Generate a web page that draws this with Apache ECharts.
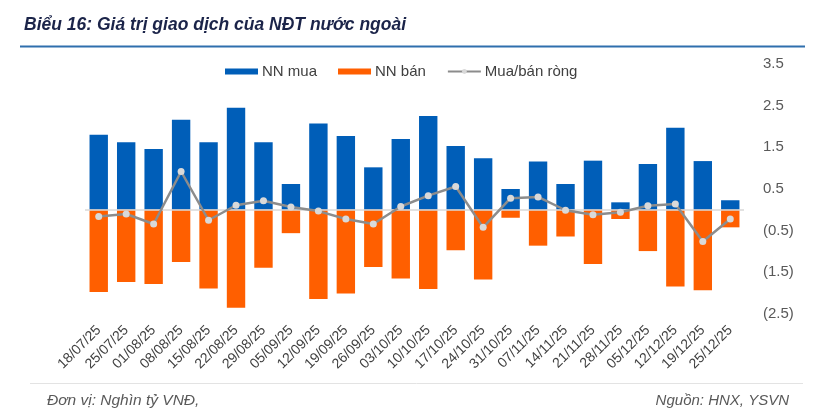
<!DOCTYPE html>
<html>
<head>
<meta charset="utf-8">
<script src="https://cdn.jsdelivr.net/npm/echarts@6/dist/echarts.min.js"></script>
<style>
    html, body { margin: 0; padding: 0; background: #fff; }
    #chart { width: 820px; height: 418px; }
</style>
</head>
<body>
<div id="chart"></div>
<script>
// du lieu doc tu hinh (nghin ty VND)
var weeks = ['18/07/25', '25/07/25', '01/08/25', '08/08/25', '15/08/25', '22/08/25', '29/08/25', '05/09/25',
    '12/09/25', '19/09/25', '26/09/25', '03/10/25', '10/10/25', '17/10/25', '24/10/25', '31/10/25',
    '07/11/25', '14/11/25', '21/11/25', '28/11/25', '05/12/25', '12/12/25', '19/12/25', '25/12/25'];
var nnMua = [1.80, 1.62, 1.46, 2.16, 1.62, 2.45, 1.62, 0.62, 2.07, 1.77, 1.02, 1.70,
    2.25, 1.53, 1.24, 0.50, 1.16, 0.62, 1.18, 0.18, 1.10, 1.97, 1.17, 0.23];
var nnBan = [-1.97, -1.73, -1.78, -1.25, -1.89, -2.35, -1.39, -0.56, -2.14, -2.01, -1.37, -1.65,
    -1.90, -0.97, -1.67, -0.19, -0.86, -0.64, -1.30, -0.22, -0.99, -1.84, -1.93, -0.42];
var rong = [-0.16, -0.10, -0.34, 0.92, -0.25, 0.11, 0.22, 0.07, -0.03, -0.22, -0.34, 0.08,
    0.34, 0.56, -0.42, 0.28, 0.31, -0.01, -0.12, -0.06, 0.10, 0.14, -0.76, -0.22];
var yMin = -2.5, yMax = 3.5;

var fontMain = '"Liberation Sans", Arial, sans-serif';

var myChart = echarts.init(document.getElementById('chart'));
myChart.setOption({
    animation: false,
    title: {
        text: 'Biểu 16: Giá trị giao dịch của NĐT nước ngoài',
        left: 19,
        top: 11,
        textStyle: {
            fontFamily: fontMain,
            fontSize: 17.5,
            fontWeight: 'bold',
            fontStyle: 'italic',
            color: '#1b2449'
        }
    },
    legend: {
        data: [
            { name: 'NN mua', icon: 'rect' },
            { name: 'NN bán', icon: 'rect' },
            { name: 'Mua/bán ròng' }
        ],
        left: 220,
        top: 59,
        itemWidth: 33,
        itemHeight: 6,
        itemGap: 21,
        textStyle: {
            fontFamily: fontMain,
            fontSize: 15,
            color: '#404040',
            padding: [0, 0, 0, -1]
        }
    },
    grid: {
        left: 85,
        right: 76,
        top: 64,
        height: 250
    },
    xAxis: {
        type: 'category',
        data: weeks,
        axisLine: { show: false, onZero: false },
        axisTick: { show: false },
        axisLabel: {
            rotate: 45,
            margin: 14,
            interval: 0,
            fontFamily: fontMain,
            fontSize: 14,
            color: '#404040'
        }
    },
    yAxis: {
        type: 'value',
        position: 'right',
        min: yMin,
        max: yMax,
        interval: 0.5,
        splitLine: { show: false },
        axisLine: { show: false },
        axisTick: { show: false },
        axisLabel: {
            margin: 19,
            fontFamily: fontMain,
            fontSize: 15,
            color: '#595959',
            formatter: function (v) {
                // chi hien cac moc x.5
                if (Math.abs(Math.round(v * 2)) % 2 === 0) return '';
                return v < 0 ? '(' + Math.abs(v).toFixed(1) + ')' : v.toFixed(1);
            }
        }
    },
    series: [
        {
            name: 'NN mua',
            type: 'bar',
            stack: 'gd',
            barCategoryGap: '33%',
            data: nnMua,
            itemStyle: { color: '#005eb8' },
            markLine: {
                silent: true,
                symbol: 'none',
                label: { show: false },
                lineStyle: { color: '#d9d9d9', type: 'solid', width: 1.5 },
                data: [{ yAxis: 0 }]
            }
        },
        {
            name: 'NN bán',
            type: 'bar',
            stack: 'gd',
            data: nnBan,
            itemStyle: { color: '#ff5f00' }
        },
        {
            name: 'Mua/bán ròng',
            type: 'line',
            data: rong,
            symbol: 'circle',
            symbolSize: 7,
            z: 5,
            lineStyle: { color: '#8c8c8c', width: 2.5 },
            itemStyle: { color: '#d9d9d9', borderWidth: 0 }
        }
    ],
    graphic: [
        {
            type: 'line',
            shape: { x1: 20, y1: 46.5, x2: 805, y2: 46.5 },
            style: { stroke: '#2f6fad', lineWidth: 2 }
        },
        {
            type: 'line',
            shape: { x1: 30, y1: 383.5, x2: 803, y2: 383.5 },
            style: { stroke: '#e3e3e3', lineWidth: 1 }
        },
        {
            type: 'text',
            left: 47,
            top: 393,
            style: {
                text: 'Đơn vị: Nghìn tỷ VNĐ,',
                font: 'italic 15.5px ' + fontMain,
                fill: '#595959'
            }
        },
        {
            type: 'text',
            right: 31,
            top: 393,
            style: {
                text: 'Nguồn: HNX, YSVN',
                font: 'italic 15px ' + fontMain,
                fill: '#595959'
            }
        }
    ]
});
</script>
</body>
</html>
